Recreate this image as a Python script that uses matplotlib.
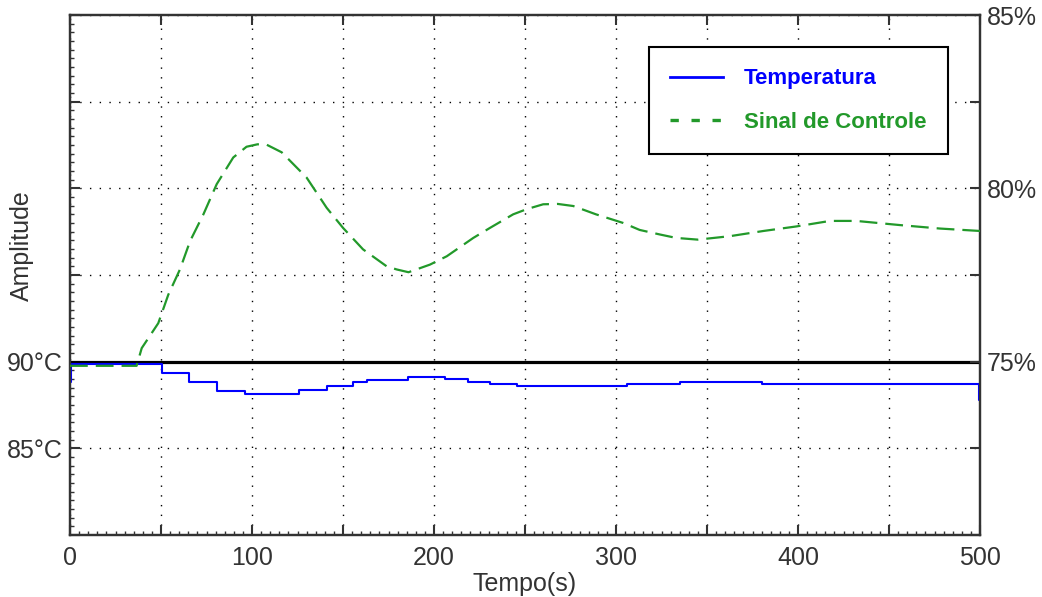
import matplotlib
matplotlib.use("Agg")
import matplotlib.pyplot as plt
from matplotlib.lines import Line2D
from matplotlib.ticker import FixedLocator, MultipleLocator, NullLocator

# --- data -------------------------------------------------------------
# Temperature response (°C), piecewise constant (sample-and-hold)
temp_t = [0, 0.6, 50.4, 65.6, 81, 96.2, 126, 141, 155.7, 163.4, 185.9,
          206, 218.8, 230.8, 245.4, 305.9, 335, 380, 499.2, 500]
temp_v = [88.85, 89.84, 89.33, 88.85, 88.31, 88.12, 88.35, 88.6, 88.85, 88.95,
          89.12, 88.98, 88.83, 88.74, 88.6, 88.74, 88.85, 88.74, 87.8, 87.8]

# Control signal (%)
ctrl_t = [0, 13.7, 36.6, 39.4, 48.5, 54, 60.4, 66, 73.3, 80.6, 89.7, 97, 103,
          108, 116.3, 130, 141, 150, 161, 174, 179.5, 186, 197.8, 207, 221.6,
          230.8, 243.5, 251, 260, 268, 276.5, 289, 304, 313, 324, 333, 345,
          362.6, 381, 399, 417.6, 432, 456, 478, 500]
ctrl_v = [74.88, 74.88, 74.88, 75.39, 76.11, 76.93, 77.66, 78.48, 79.25, 80.12,
          80.89, 81.2, 81.27, 81.26, 81.04, 80.31, 79.44, 78.86, 78.24, 77.75,
          77.66, 77.58, 77.8, 78.04, 78.57, 78.86, 79.25, 79.4, 79.54, 79.55,
          79.49, 79.25, 79.0, 78.8, 78.67, 78.57, 78.52, 78.62, 78.77, 78.9,
          79.06, 79.06, 78.94, 78.84, 78.77]

setpoint = 90.0

x_ticks = [0, 50, 100, 150, 200, 250, 300, 350, 400, 450, 500]
x_labels = ["0", "", "100", "", "200", "", "300", "", "400", "", "500"]
temp_ticks = [80, 85, 90, 95, 100, 105, 110]
temp_labels = ["", "85°C", "90°C", "", "", "", ""]
pct_ticks = [70, 72.5, 75, 77.5, 80, 82.5, 85]
pct_labels = ["", "", "75%", "", "80%", "", "85%"]

series_names = ["Temperatura", "Sinal de Controle"]

# --- style ------------------------------------------------------------
plt.rcParams["font.family"] = ["Liberation Sans", "DejaVu Sans"]
BLUE = "#0000ff"
GREEN = "#22992a"
AXC = "#333333"

fig = plt.figure(figsize=(10.42, 5.97), dpi=100)
ax = fig.add_axes([70 / 1042, 1 - 535 / 597, 910 / 1042, 520 / 597])
ax2 = ax.twinx()

ax.set_xlim(0, 500)
ax.set_ylim(80, 110)
ax2.set_ylim(70, 85)

# grid (dotted)
ax.xaxis.set_major_locator(FixedLocator(x_ticks))
ax.yaxis.set_major_locator(FixedLocator(temp_ticks))
ax.grid(True, which="major", color="black", linestyle=(0, (1, 6)), linewidth=1.0)

# setpoint line
ax.axhline(setpoint, color="black", linewidth=2.3, zorder=3)

# temperature
ax.plot(temp_t, temp_v, drawstyle="steps-post", color=BLUE, linewidth=1.5, zorder=4)

# control signal
ax2.plot(ctrl_t, ctrl_v, color=GREEN, linewidth=1.6, dashes=(8, 3.6), zorder=4)

# ticks
ax.set_xticks(x_ticks)
ax.set_xticklabels(x_labels)
ax.set_yticks(temp_ticks)
ax.set_yticklabels(temp_labels)
ax.xaxis.set_minor_locator(MultipleLocator(5))
ax.yaxis.set_minor_locator(MultipleLocator(0.5))
ax2.set_yticks(pct_ticks)
ax2.set_yticklabels(pct_labels)
ax2.yaxis.set_minor_locator(NullLocator())

ax.tick_params(axis="x", which="major", direction="in", length=7, width=1.5,
               top=True, labelsize=18, pad=8, colors=AXC)
ax.tick_params(axis="x", which="minor", direction="in", length=3, width=1,
               top=False, colors=AXC)
ax.tick_params(axis="y", which="major", direction="in", length=7, width=1.5,
               labelsize=18, pad=5, colors=AXC)
ax.tick_params(axis="y", which="minor", direction="in", length=3, width=1, colors=AXC)
ax2.tick_params(axis="y", which="major", direction="in", length=7, width=1.5,
                labelsize=18, pad=5, colors=AXC)

for a in (ax, ax2):
    for s in a.spines.values():
        s.set_color(AXC)
        s.set_linewidth(1.6)

ax.set_xlabel("Tempo(s)", fontsize=18, color=AXC, labelpad=1)
ax.set_ylabel("Amplitude", fontsize=18, color=AXC)
ax.yaxis.set_label_coords(-0.040, 0.556)

# legend
handles = [
    Line2D([], [], color=BLUE, linewidth=2.0),
    Line2D([], [], color=GREEN, linewidth=2.4, dashes=(2.5, 3.8)),
]
leg = ax2.legend(handles, series_names, loc="upper right",
                 prop={"weight": "bold", "size": 16},
                 frameon=True, fancybox=False, shadow=False,
                 handlelength=2.4, handletextpad=0.95, labelspacing=1.0,
                 borderpad=0.95, borderaxespad=1.45)
frame = leg.get_frame()
frame.set_edgecolor("black")
frame.set_linewidth(1.5)
frame.set_facecolor("white")
frame.set_alpha(1)
for txt, col in zip(leg.get_texts(), [BLUE, GREEN]):
    txt.set_color(col)

fig.savefig("out.png", dpi=100)
